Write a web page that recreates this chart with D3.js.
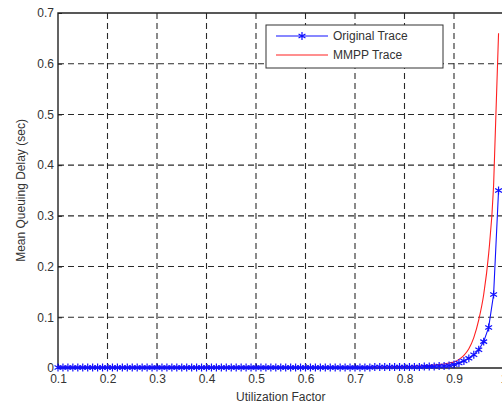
<!DOCTYPE html>
<html>
<head>
<meta charset="utf-8">
<script src="https://cdn.jsdelivr.net/npm/d3@7"></script>
<style>
  body { margin: 0; background: #fff; }
  text { font-family: "Liberation Sans", Arial, sans-serif; fill: #333; }
</style>
</head>
<body>
<div id="chart"></div>
<script>
// Utilization factor (x values)
const utilization = [
  0.10, 0.11, 0.12, 0.13, 0.14, 0.15, 0.16, 0.17, 0.18, 0.19,
  0.20, 0.21, 0.22, 0.23, 0.24, 0.25, 0.26, 0.27, 0.28, 0.29,
  0.30, 0.31, 0.32, 0.33, 0.34, 0.35, 0.36, 0.37, 0.38, 0.39,
  0.40, 0.41, 0.42, 0.43, 0.44, 0.45, 0.46, 0.47, 0.48, 0.49,
  0.50, 0.51, 0.52, 0.53, 0.54, 0.55, 0.56, 0.57, 0.58, 0.59,
  0.60, 0.61, 0.62, 0.63, 0.64, 0.65, 0.66, 0.67, 0.68, 0.69,
  0.70, 0.71, 0.72, 0.73, 0.74, 0.75, 0.76, 0.77, 0.78, 0.79,
  0.80, 0.81, 0.82, 0.83, 0.84, 0.85, 0.86, 0.87, 0.88, 0.89,
  0.90, 0.91, 0.92, 0.93, 0.94, 0.95, 0.96, 0.97, 0.98, 0.99
];

// Original trace delay (sec)
const originalTrace = [
  0.001, 0.001, 0.001, 0.001, 0.001, 0.001, 0.001, 0.001, 0.001, 0.001,
  0.001, 0.001, 0.001, 0.001, 0.001, 0.001, 0.001, 0.001, 0.001, 0.001,
  0.001, 0.001, 0.001, 0.001, 0.001, 0.001, 0.001, 0.001, 0.001, 0.001,
  0.001, 0.001, 0.001, 0.001, 0.001, 0.001, 0.001, 0.001, 0.001, 0.001,
  0.001, 0.001, 0.001, 0.001, 0.001, 0.001, 0.001, 0.001, 0.001, 0.001,
  0.001, 0.001, 0.001, 0.001, 0.001, 0.001, 0.001, 0.001, 0.001, 0.001,
  0.001, 0.001, 0.001, 0.001, 0.002, 0.002, 0.002, 0.002, 0.002, 0.002,
  0.002, 0.002, 0.002, 0.002, 0.003, 0.003, 0.003, 0.004, 0.004, 0.005,
  0.007, 0.010, 0.014, 0.019, 0.026, 0.036, 0.052, 0.080, 0.145, 0.350
];

// MMPP trace delay (sec)
const mmppTrace = [
  0.002, 0.002, 0.002, 0.002, 0.002, 0.002, 0.002, 0.002, 0.002, 0.002,
  0.002, 0.002, 0.002, 0.002, 0.002, 0.002, 0.002, 0.002, 0.002, 0.002,
  0.002, 0.002, 0.002, 0.002, 0.002, 0.002, 0.002, 0.002, 0.002, 0.002,
  0.002, 0.002, 0.002, 0.002, 0.002, 0.002, 0.002, 0.002, 0.002, 0.002,
  0.002, 0.002, 0.002, 0.002, 0.002, 0.002, 0.002, 0.002, 0.002, 0.002,
  0.002, 0.002, 0.002, 0.002, 0.002, 0.002, 0.002, 0.002, 0.002, 0.002,
  0.002, 0.002, 0.002, 0.002, 0.002, 0.002, 0.002, 0.002, 0.003, 0.003,
  0.003, 0.003, 0.004, 0.004, 0.005, 0.005, 0.006, 0.007, 0.008, 0.010,
  0.012, 0.017, 0.025, 0.038, 0.060, 0.095, 0.145, 0.225, 0.360, 0.660
];

const xTicks = [0.1, 0.2, 0.3, 0.4, 0.5, 0.6, 0.7, 0.8, 0.9, 1];
const yTicks = [0, 0.1, 0.2, 0.3, 0.4, 0.5, 0.6, 0.7];
const seriesNames = ["Original Trace", "MMPP Trace"];
const seriesColors = ["#1010ff", "#ff2020"];

const W = 502, H = 404;
const plot = { left: 58, top: 13, right: 503.5, bottom: 368 };

const svg = d3.select("#chart").append("svg")
  .attr("width", W)
  .attr("height", H);

const x = d3.scaleLinear().domain([0.1, 1]).range([plot.left, plot.right]);
const y = d3.scaleLinear().domain([0, 0.7]).range([plot.bottom, plot.top]);

// grille pointillée
const grid = svg.append("g")
  .attr("stroke", "#2a2a2a")
  .attr("stroke-width", 1.1)
  .attr("stroke-dasharray", "6,4");

grid.selectAll(".gx")
  .data(xTicks.slice(1))
  .enter().append("line")
  .attr("x1", d => x(d)).attr("x2", d => x(d))
  .attr("y1", plot.top).attr("y2", plot.bottom);

grid.selectAll(".gy")
  .data(yTicks.slice(1, -1))
  .enter().append("line")
  .attr("x1", plot.left).attr("x2", plot.right)
  .attr("y1", d => y(d)).attr("y2", d => y(d));

// axes
const xAxis = svg.append("g")
  .attr("transform", `translate(0,${plot.bottom})`)
  .call(d3.axisBottom(x).tickValues(xTicks).tickSize(-4).tickPadding(6)
    .tickFormat(d => d === 1 ? "1" : d3.format(".1f")(d)));

const yAxis = svg.append("g")
  .attr("transform", `translate(${plot.left},0)`)
  .call(d3.axisLeft(y).tickValues(yTicks).tickSize(-4).tickPadding(4)
    .tickFormat(d => d === 0 ? "0" : d3.format(".1f")(d)));

[xAxis, yAxis].forEach(a => {
  a.select(".domain").remove();
  a.selectAll("line").attr("stroke", "#222");
  a.selectAll("text").attr("font-size", "12px").attr("fill", "#333")
    .attr("font-family", "Liberation Sans, Arial, sans-serif");
});

// cadre
svg.append("path")
  .attr("d", `M${plot.left},${plot.bottom}V${plot.top}H${plot.right}V${plot.bottom}Z`)
  .attr("fill", "none")
  .attr("stroke", "#222")
  .attr("stroke-width", 1.4);

// courbes
svg.append("path")
  .datum(mmppTrace)
  .attr("fill", "none")
  .attr("stroke", seriesColors[1])
  .attr("stroke-width", 1.1)
  .attr("d", d3.line()
    .x((d, i) => x(utilization[i]))
    .y(d => y(d))
    .curve(d3.curveMonotoneX));

svg.append("path")
  .datum(originalTrace)
  .attr("fill", "none")
  .attr("stroke", seriesColors[0])
  .attr("stroke-width", 1.1)
  .attr("d", d3.line().x((d, i) => x(utilization[i])).y(d => y(d)));

const star = d3.symbol(d3.symbolAsterisk || d3.symbolCross).size(44);

svg.append("g")
  .selectAll("path")
  .data(originalTrace)
  .enter().append("path")
  .attr("transform", (d, i) => `translate(${x(utilization[i])},${y(d)})`)
  .attr("d", star)
  .attr("fill", "none")
  .attr("stroke", seriesColors[0])
  .attr("stroke-width", 1.2);

// légende
const legend = svg.append("g").attr("transform", "translate(266,25)");
legend.append("rect")
  .attr("width", 177).attr("height", 43)
  .attr("fill", "#fff").attr("stroke", "#333").attr("stroke-width", 1);

seriesNames.forEach((name, i) => {
  const ly = 11 + i * 19;
  legend.append("line")
    .attr("x1", 10).attr("x2", 62).attr("y1", ly).attr("y2", ly)
    .attr("stroke", seriesColors[i]).attr("stroke-width", 1.1);
  if (i === 0) {
    legend.append("path")
      .attr("transform", `translate(36,${ly})`)
      .attr("d", star)
      .attr("fill", "none")
      .attr("stroke", seriesColors[i])
      .attr("stroke-width", 1.2);
  }
  legend.append("text")
    .attr("x", 67).attr("y", ly + 4)
    .attr("font-size", "12px")
    .text(name);
});

// titres des axes
svg.append("text")
  .attr("x", (plot.left + plot.right) / 2)
  .attr("y", 401)
  .attr("text-anchor", "middle")
  .attr("font-size", "12px")
  .text("Utilization Factor");

svg.append("text")
  .attr("transform", `translate(25,${(plot.top + plot.bottom) / 2}) rotate(-90)`)
  .attr("text-anchor", "middle")
  .attr("font-size", "12px")
  .text("Mean Queuing Delay (sec)");
</script>
</body>
</html>
